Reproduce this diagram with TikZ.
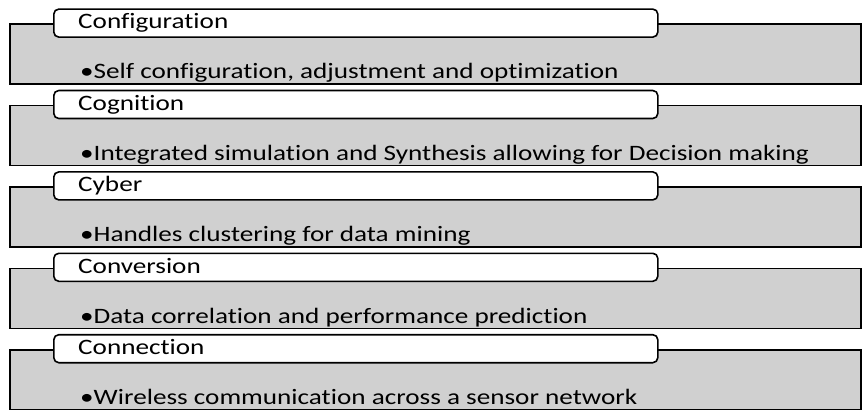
\documentclass[tikz,border=0pt]{standalone}
\usepackage{fontspec}
\setmainfont{Carlito}[RawFeature={-liga;-clig}, FakeStretch=1.235]
\usetikzlibrary{positioning}

\definecolor{bandgray}{RGB}{208,208,208}
\tikzset{
  band/.style={draw=black, line width=1.6pt, fill=bandgray, minimum width=851pt, minimum height=60pt, inner sep=0pt, anchor=north west},
  tab/.style={draw=black, line width=1.6pt, fill=white, rounded corners=5pt, minimum width=604pt, minimum height=28pt, inner sep=0pt, anchor=north west},
  ttl/.style={anchor=base west, inner sep=0pt, font=\fontsize{22}{24}\selectfont},
  dsc/.style={anchor=base west, inner sep=0pt, font=\fontsize{22}{24}\selectfont}
}

\begin{document}
\begin{tikzpicture}[x=1pt, y=-1pt]
\useasboundingbox (0,0) rectangle (863,410);
\foreach \i/\ttltext/\dsctext in {0/Configuration/{Self configuration, adjustment and optimization},
  1/Cognition/{Integrated simulation and Synthesis allowing for Decision making},
  2/Cyber/{Handles clustering for data mining},
  3/Conversion/{Data correlation and performance prediction},
  4/Connection/{Wireless communication across a sensor network}} {
\begin{scope}[yshift=-81.4*\i pt]
    \node[band] (g\i) at (9,23.3) {};
    \node[tab] (t\i) at (53,8.3) {};
    \node[ttl] (h\i) at (78,28.8) {\ttltext};
    \node[dsc] (d\i) at (80,78.8) {\textbullet\dsctext};
\end{scope}
}
\end{tikzpicture}
\end{document}
